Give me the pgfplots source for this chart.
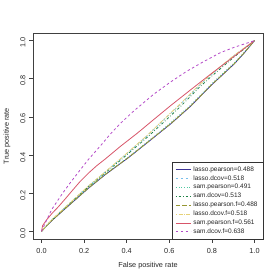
\documentclass[border=0pt]{standalone}
\usepackage{fontspec}
\setmainfont{Liberation Sans}
\usepackage{pgfplots}
\pgfplotsset{compat=1.18}
\definecolor{cLP}{RGB}{62,52,150}
\definecolor{cLD}{RGB}{120,190,235}
\definecolor{cSP}{RGB}{80,200,160}
\definecolor{cSD}{RGB}{30,130,70}
\definecolor{cLPF}{RGB}{150,150,50}
\definecolor{cLDF}{RGB}{230,210,120}
\definecolor{cSPF}{RGB}{215,85,105}
\definecolor{cSDF}{RGB}{180,75,200}
\begin{document}
\begin{tikzpicture}[x=1pt,y=1pt]
\path[use as bounding box] (0,0) rectangle (280,280);
\begin{axis}[
  at={(33pt,41pt)}, anchor=south west,
  scale only axis, width=230pt, height=206pt,
  xmin=-0.04, xmax=1.04, ymin=-0.04, ymax=1.04,
  xtick={0,0.2,0.4,0.6,0.8,1}, ytick={0,0.2,0.4,0.6,0.8,1},
  xticklabels={0.0,0.2,0.4,0.6,0.8,1.0},
  yticklabels={0.0,0.2,0.4,0.6,0.8,1.0},
  tick align=outside, major tick length=4pt,
  tick pos=left,
  axis line style={black!75, line width=0.6pt},
  every tick/.style={black!75, line width=0.6pt},
  /pgf/number format/assume math mode=true,
  tick label style={font=\fontsize{7.3}{8}\selectfont, text=black!85},
  xticklabel style={yshift=-2pt},
  yticklabel style={rotate=90, anchor=south, xshift=-2pt},
  xlabel={False positive rate}, ylabel={True positive rate},
  label style={font=\fontsize{7.3}{8}\selectfont, text=black!85},
  xlabel style={yshift=-2pt},
  ylabel style={yshift=3pt},
  legend style={at={(1,0)}, anchor=south east, draw=black!80, line width=0.5pt,
    font=\fontsize{6.5}{7}\selectfont, text=black!85,
    row sep=-1.3pt, inner xsep=3.5pt, inner ysep=2pt, outer sep=0pt},
  legend cell align=left,
  legend image code/.code={\draw[#1] (0pt,0pt) -- (15pt,0pt);},
  every axis plot/.append style={line width=0.8pt},
]
% lasso.pearson
\addplot[cLP, solid] coordinates {(0,0) (0.02,0.025) (0.05,0.058) (0.1,0.108) (0.22,0.226) (0.3,0.298) (0.41,0.388) (0.5,0.468) (0.607,0.564) (0.7,0.656) (0.795,0.764) (0.905,0.878) (0.95,0.933) (1,1)};
\addlegendentry{lasso.pearson=0.488}
% lasso.dcov
\addplot[cLD, dash pattern=on 2.5pt off 2.5pt] coordinates {(0,0) (0.02,0.026) (0.05,0.062) (0.1,0.114) (0.22,0.237) (0.3,0.312) (0.372,0.38) (0.497,0.502) (0.56,0.57) (0.65,0.664) (0.74,0.764) (0.795,0.82) (0.905,0.922) (1,1)};
\addlegendentry{lasso.dcov=0.518}
% sam.pearson
\addplot[cSP, dash pattern=on 0.7pt off 2pt] coordinates {(0,0) (0.02,0.026) (0.05,0.06) (0.1,0.111) (0.22,0.229) (0.3,0.301) (0.41,0.392) (0.5,0.472) (0.607,0.57) (0.7,0.662) (0.795,0.77) (0.905,0.884) (0.95,0.937) (1,1)};
\addlegendentry{sam.pearson=0.491}
% sam.dcov
\addplot[cSD, dash pattern=on 0.7pt off 2pt on 2.5pt off 2pt] coordinates {(0,0) (0.02,0.025) (0.05,0.06) (0.1,0.112) (0.22,0.234) (0.3,0.308) (0.372,0.374) (0.497,0.494) (0.56,0.558) (0.65,0.652) (0.74,0.754) (0.795,0.81) (0.905,0.915) (1,1)};
\addlegendentry{sam.dcov=0.513}
% lasso.pearson.f
\addplot[cLPF, dash pattern=on 4.5pt off 2pt] coordinates {(0,0) (0.02,0.025) (0.05,0.059) (0.1,0.109) (0.22,0.227) (0.3,0.299) (0.41,0.389) (0.5,0.469) (0.607,0.565) (0.7,0.657) (0.795,0.765) (0.905,0.879) (0.95,0.934) (1,1)};
\addlegendentry{lasso.pearson.f=0.488}
% lasso.dcov.f
\addplot[cLDF, dash pattern=on 1.3pt off 1.3pt on 4pt off 1.3pt] coordinates {(0,0) (0.02,0.027) (0.05,0.063) (0.1,0.115) (0.22,0.238) (0.3,0.313) (0.372,0.382) (0.497,0.504) (0.56,0.572) (0.65,0.667) (0.74,0.767) (0.795,0.822) (0.905,0.924) (1,1)};
\addlegendentry{lasso.dcov.f=0.518}
% sam.pearson.f
\addplot[cSPF, solid] coordinates {(0,0) (0.005,0.03) (0.025,0.062) (0.05,0.095) (0.08,0.13) (0.115,0.175) (0.143,0.212) (0.18,0.26) (0.22,0.305) (0.26,0.345) (0.30,0.38) (0.372,0.447) (0.45,0.515) (0.52,0.58) (0.607,0.66) (0.7,0.742) (0.795,0.825) (0.905,0.918) (1,1)};
\addlegendentry{sam.pearson.f=0.561}
% sam.dcov.f
\addplot[cSDF, dash pattern=on 2.5pt off 2.5pt] coordinates {(0,0) (0.02,0.05) (0.048,0.115) (0.096,0.195) (0.135,0.255) (0.18,0.32) (0.221,0.378) (0.278,0.45) (0.323,0.51) (0.372,0.568) (0.434,0.632) (0.528,0.72) (0.607,0.784) (0.68,0.838) (0.75,0.883) (0.84,0.937) (0.905,0.965) (1,1)};
\addlegendentry{sam.dcov.f=0.638}
\end{axis}
\end{tikzpicture}
\end{document}
